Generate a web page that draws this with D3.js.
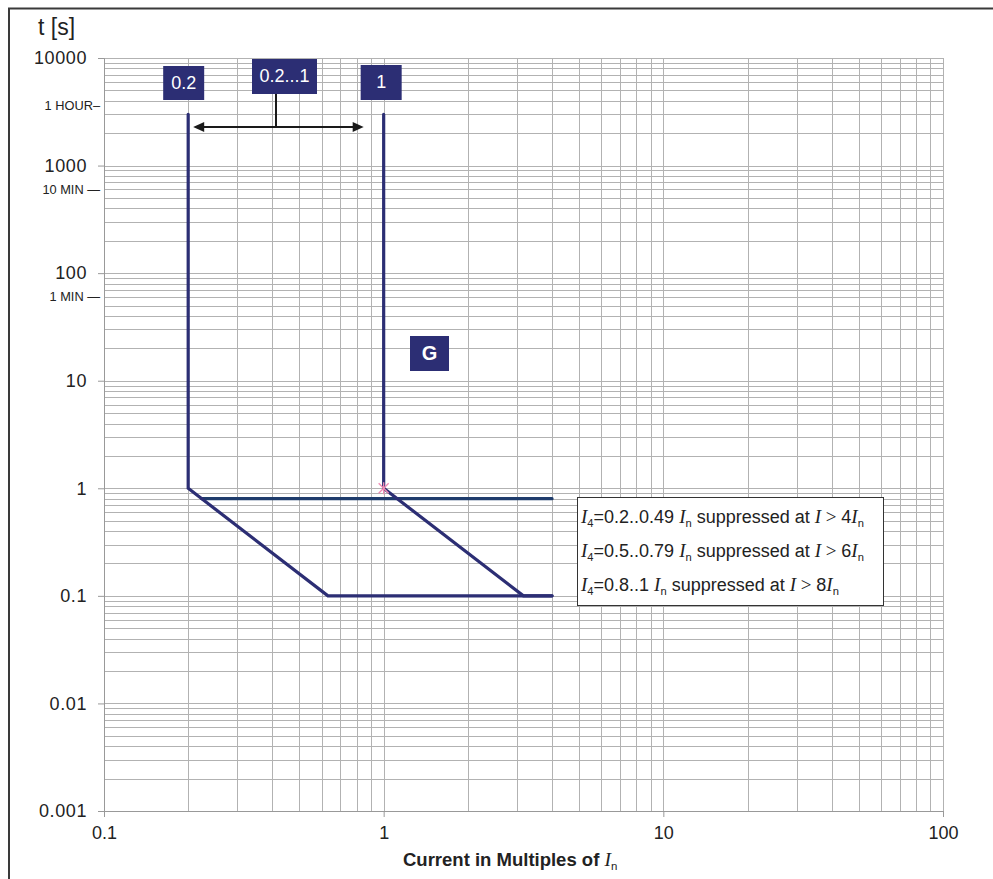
<!DOCTYPE html>
<html><head><meta charset="utf-8">
<script src="https://cdn.jsdelivr.net/npm/d3@7"></script>
<style>
body{margin:0;background:#fff;}
svg{display:block;font-family:"Liberation Sans",Arial,sans-serif;}
</style></head>
<body><svg id="c" width="993" height="879"></svg>
<script>
// ---- data ----
const xDomain = [0.1, 100];
const yDomain = [0.001, 10000];
const xTickValues = [0.1, 1, 10, 100];
const xTickLabels = ["0.1", "1", "10", "100"];
const yTickValues = [10000, 1000, 100, 10, 1, 0.1, 0.01, 0.001];
const yTickLabels = ["10000", "1000", "100", "10", "1", "0.1", "0.01", "0.001"];
const timeMarks = [3600, 600, 60];
const timeLabels = ["1 HOUR\u2013", "10 MIN \u2014", "1 MIN \u2014"];
// curve for I4 = 0.2 In
const curveLowI = [0.2, 0.2, 0.632, 4];
const curveLowT = [3000, 1, 0.1, 0.1];
// curve for I4 = 1 In
const curveHighI = [1, 1, 3.16, 4];
const curveHighT = [3000, 1, 0.1, 0.1];
// suppression line
const suppI = [0.2236, 4];
const suppT = [0.8, 0.8];
const markerPoint = [1, 1];
const boxLabels = ["0.2", "0.2...1", "1", "G"];
const legendRanges = ["0.2..0.49", "0.5..0.79", "0.8..1"];
const legendLimits = ["4", "6", "8"];

// ---- layout ----
const svg = d3.select("#c");
const L = 104, R = 943, T = 58, B = 811;
const x = d3.scaleLog().domain(xDomain).range([L, R]);
const y = d3.scaleLog().domain(yDomain).range([B, T]);
const navy = "#2c2e74";
const serif = "Liberation Serif";

// outer frame
svg.append("rect").attr("x", 9).attr("y", 8.5).attr("width", 1000).attr("height", 1000)
  .attr("fill", "none").attr("stroke", "#3a3a3a").attr("stroke-width", 2);

// grid
const g = svg.append("g");
const xGrid = [], yGrid = [];
for (let e = -1; e < 2; e++) for (let m = 1; m <= 9; m++) xGrid.push(m * Math.pow(10, e));
xGrid.push(100);
for (let e = -3; e < 4; e++) for (let m = 1; m <= 9; m++) yGrid.push(m * Math.pow(10, e));
yGrid.push(10000);
g.selectAll(".vg").data(xGrid).join("line")
  .attr("x1", d => Math.round(x(d)) + 0.5).attr("x2", d => Math.round(x(d)) + 0.5)
  .attr("y1", T).attr("y2", B).attr("stroke", "#b2b2b2").attr("stroke-width", 1);
g.selectAll(".hg").data(yGrid).join("line")
  .attr("y1", d => Math.round(y(d)) + 0.5).attr("y2", d => Math.round(y(d)) + 0.5)
  .attr("x1", L).attr("x2", R).attr("stroke", "#b2b2b2").attr("stroke-width", 1);

// axes
const yAxis = d3.axisLeft(y).tickValues(yTickValues).tickSize(6)
  .tickFormat((d, i) => yTickLabels[i]).tickPadding(11);
const ya = svg.append("g").attr("transform", `translate(${L},0)`).call(yAxis);
ya.select(".domain").attr("stroke", "#999");
ya.selectAll(".tick line").attr("stroke", "#999");
ya.selectAll(".tick text").attr("font-size", 18).attr("letter-spacing", 0.6).attr("fill", "#222").attr("font-family", "Liberation Sans");

const xAxis = d3.axisBottom(x).tickValues(xTickValues).tickSize(6)
  .tickFormat((d, i) => xTickLabels[i]).tickPadding(9);
const xa = svg.append("g").attr("transform", `translate(0,${B})`).call(xAxis);
xa.select(".domain").attr("stroke", "#999");
xa.selectAll(".tick line").attr("stroke", "#999");
xa.selectAll(".tick text").attr("font-size", 18).attr("fill", "#222").attr("font-family", "Liberation Sans");

// time labels
svg.selectAll(".tl").data(timeMarks).join("text")
  .attr("x", 100).attr("y", d => y(d)).attr("dy", "0.35em")
  .attr("text-anchor", "end").attr("font-size", 12.8).attr("fill", "#222")
  .text((d, i) => timeLabels[i]);

// axis titles
svg.append("text").attr("x", 38).attr("y", 35).attr("font-size", 23).attr("fill", "#222").text("t [s]");

// rich text helper: segments [text, kind] kind: "s" sans, "i" italic serif, "sub" subscript, "r" serif roman
function rich(t, segs, fs) {
  let off = 0;
  segs.forEach(([txt, kind]) => {
    const sp = t.append("tspan").text(txt);
    const target = kind === "sub" ? 4 : 0;
    if (target !== off) { sp.attr("dy", target - off); off = target; }
    if (kind === "i") sp.attr("font-family", serif).attr("font-style", "italic").attr("font-weight", "normal").attr("font-size", fs + 1);
    if (kind === "r") sp.attr("font-family", serif).attr("font-weight", "normal").attr("font-size", fs + 1);
    if (kind === "sub") sp.attr("font-size", fs * 0.62).attr("font-weight", "normal");
  });
}
const xt = svg.append("text").attr("x", 403).attr("y", 866).attr("font-size", 18.5)
  .attr("font-weight", "bold").attr("fill", "#222");
rich(xt, [["Current in Multiples of ", "s"], ["I", "i"], ["n", "sub"]], 18.5);

// curves
const line = d3.line().x(d => x(d[0])).y(d => y(d[1]));
const lowPts = curveLowI.map((v, i) => [v, curveLowT[i]]);
const highPts = curveHighI.map((v, i) => [v, curveHighT[i]]);
const suppPts = suppI.map((v, i) => [v, suppT[i]]);
svg.append("path").attr("d", line(suppPts)).attr("fill", "none").attr("stroke", "#1f3c6c")
  .attr("stroke-width", 3.2).attr("stroke-linecap", "round");
[lowPts, highPts].forEach(p => svg.append("path").attr("d", line(p)).attr("fill", "none")
  .attr("stroke", navy).attr("stroke-width", 3.2).attr("stroke-linecap", "round").attr("stroke-linejoin", "miter"));

// marker
const mx = x(markerPoint[0]), my = y(markerPoint[1]);
const mk = svg.append("g").attr("stroke", "#f08cb4").attr("stroke-width", 1.3);
[[-5,-5,5,5],[-5,5,5,-5],[0,-6,0,6]].forEach(s => mk.append("line")
  .attr("x1", mx + s[0]).attr("y1", my + s[1]).attr("x2", mx + s[2]).attr("y2", my + s[3]));

// label boxes
function box(x0, y0, w, h, txt, fs, bold) {
  svg.append("rect").attr("x", x0).attr("y", y0).attr("width", w).attr("height", h).attr("fill", navy);
  svg.append("text").attr("x", x0 + w / 2).attr("y", y0 + h / 2).attr("dy", "0.33em")
    .attr("text-anchor", "middle").attr("fill", "#fff").attr("font-size", fs)
    .attr("font-weight", bold ? "bold" : "normal").text(txt);
}
box(x(0.2) - 25, 66, 41, 34, boxLabels[0], 18);
box(252, 59, 65, 35, boxLabels[1], 18);
box(x(1) - 23, 65, 41, 35, boxLabels[2], 18);
box(410, 336, 39, 35, boxLabels[3], 20, true);

// range arrow
const ay = 127;
const ax0 = x(0.2) + 5, ax1 = x(1) - 20;
svg.append("line").attr("x1", ax0 + 8).attr("x2", ax1 - 8).attr("y1", ay).attr("y2", ay)
  .attr("stroke", "#1a1a1a").attr("stroke-width", 2);
svg.append("line").attr("x1", 276).attr("x2", 276).attr("y1", 94).attr("y2", ay)
  .attr("stroke", "#1a1a1a").attr("stroke-width", 2);
svg.append("path").attr("d", `M${ax0},${ay} L${ax0 + 11},${ay - 5} L${ax0 + 11},${ay + 5} Z`).attr("fill", "#1a1a1a");
svg.append("path").attr("d", `M${ax1},${ay} L${ax1 - 11},${ay - 5} L${ax1 - 11},${ay + 5} Z`).attr("fill", "#1a1a1a");

// legend box
svg.append("rect").attr("x", 577.5).attr("y", 497.5).attr("width", 306).attr("height", 108)
  .attr("fill", "#fff").attr("stroke", "#333").attr("stroke-width", 1);
legendRanges.forEach((r, i) => {
  const t = svg.append("text").attr("x", 581).attr("y", 523 + i * 34).attr("font-size", 18).attr("fill", "#222");
  rich(t, [["I", "i"], ["4", "sub"], ["=" + r + " ", "s"], ["I", "i"], ["n", "sub"],
    [" suppressed at ", "s"], ["I", "i"], [" > ", "r"], [legendLimits[i], "s"], ["I", "i"], ["n", "sub"]], 18);
});
</script></body></html>
